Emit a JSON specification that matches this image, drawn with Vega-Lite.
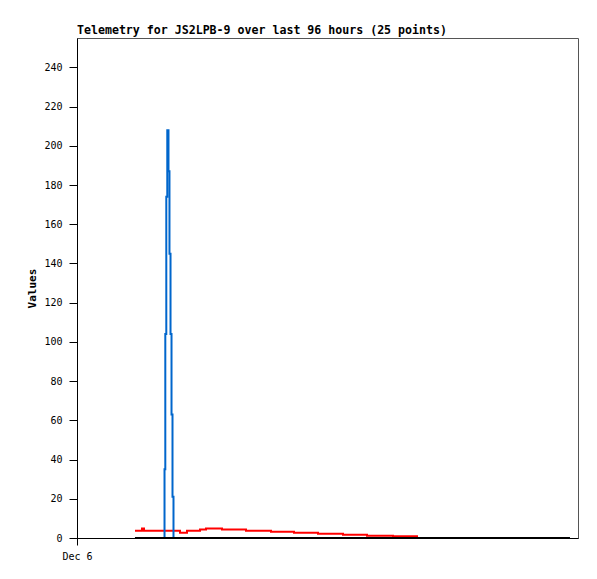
{
  "$schema": "https://vega.github.io/schema/vega-lite/v6.json",
  "autosize": "none",
  "width": 501,
  "height": 500,
  "padding": {"left": 77, "top": 38, "right": 19, "bottom": 41},
  "background": "white",
  "config": {"view": {"stroke": "#555555", "strokeWidth": 1}, "font": "DejaVu Sans Mono"},
  "title": {"text": "Telemetry for JS2LPB-9 over last 96 hours (25 points)", "anchor": "start", "frame": "group", "font": "DejaVu Sans Mono", "fontSize": 11.6, "fontWeight": "bold", "color": "black", "offset": 1},
  "datasets": {
    "red": [
      {"t": 11.11, "v": 3.75}, {"t": 12.45, "v": 4.8}, {"t": 12.84, "v": 3.75}, {"t": 19.74, "v": 2.7},
      {"t": 21.08, "v": 3.75}, {"t": 23.57, "v": 4.3}, {"t": 24.72, "v": 4.8}, {"t": 27.78, "v": 4.3},
      {"t": 32.38, "v": 3.75}, {"t": 37.17, "v": 3.2}, {"t": 41.58, "v": 2.7}, {"t": 46.18, "v": 2.2},
      {"t": 50.97, "v": 1.7}, {"t": 55.57, "v": 1.2}, {"t": 60.55, "v": 0.9}, {"t": 65.15, "v": 0},
      {"t": 94.46, "v": 0}
    ],
    "blue": [
      {"t": 11.11, "v": 0}, {"t": 16.77, "v": 35}, {"t": 16.92, "v": 104}, {"t": 17.11, "v": 174},
      {"t": 17.30, "v": 208}, {"t": 17.53, "v": 187}, {"t": 17.72, "v": 145}, {"t": 17.92, "v": 104},
      {"t": 18.11, "v": 63}, {"t": 18.30, "v": 21}, {"t": 18.49, "v": 0}, {"t": 94.46, "v": 0}
    ],
    "black": [
      {"t": 11.11, "v": 0}, {"t": 32.38, "v": 0}, {"t": 65.15, "v": 0}, {"t": 94.46, "v": 0}
    ]
  },
  "encoding": {
    "x": {"field": "t", "type": "quantitative", "scale": {"domain": [0, 96], "nice": false, "zero": false},
      "axis": {"values": [0], "labelExpr": "'Dec 6'", "grid": false, "tickSize": 7, "domainColor": "black", "tickColor": "black", "labelColor": "black", "labelFont": "DejaVu Sans Mono", "labelFontSize": 10, "labelPadding": 6, "labelFlush": false, "title": null}},
    "y": {"field": "v", "type": "quantitative", "scale": {"domain": [0, 255], "nice": false},
      "axis": {"values": [0, 20, 40, 60, 80, 100, 120, 140, 160, 180, 200, 220, 240], "grid": false, "tickSize": 8, "domainColor": "black", "tickColor": "black", "labelColor": "black", "labelFont": "DejaVu Sans Mono", "labelFontSize": 10, "labelPadding": 7, "title": "Values", "titleFont": "DejaVu Sans Mono", "titleFontSize": 11, "titleFontWeight": "bold", "titleColor": "black", "titlePadding": 6}}
  },
  "layer": [
    {"data": {"name": "red"}, "mark": {"type": "line", "interpolate": "step-after", "color": "#ff0000", "strokeWidth": 2, "strokeCap": "butt"}},
    {"data": {"name": "blue"}, "mark": {"type": "line", "interpolate": "step-after", "color": "#0066cc", "strokeWidth": 2, "strokeCap": "butt"}},
    {"data": {"name": "black"}, "mark": {"type": "line", "interpolate": "step-after", "color": "#000000", "strokeWidth": 2, "strokeCap": "butt"}}
  ]
}
